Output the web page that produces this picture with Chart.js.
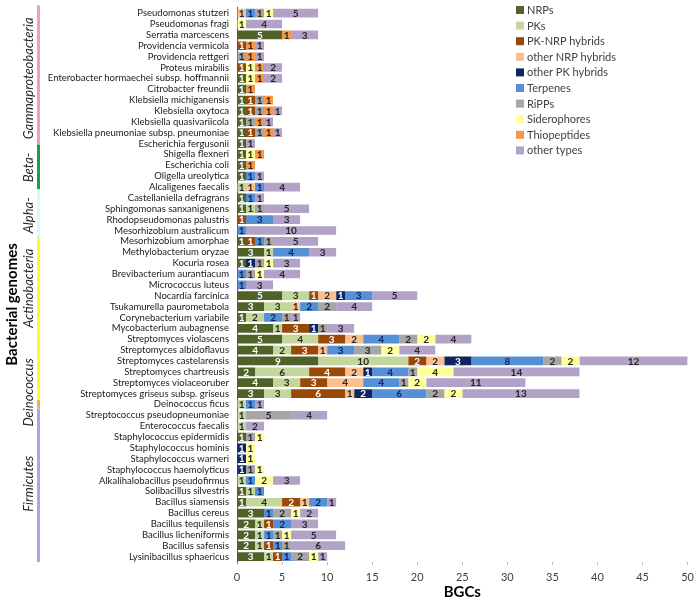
<!DOCTYPE html>
<html>
<head>
<meta charset="utf-8">
<script src="https://cdn.jsdelivr.net/npm/chart.js@4.4.1/dist/chart.umd.min.js"></script>
<style>
  html, body { margin: 0; padding: 0; background: #fff; }
  #wrap { width: 700px; height: 601px; position: relative; }
</style>
</head>
<body>
<div id="wrap"><canvas id="chart" width="700" height="601"></canvas></div>
<script>
// Genomen (van boven naar onder)
const species = [
  'Pseudomonas stutzeri', 'Pseudomonas fragi', 'Serratia marcescens', 'Providencia vermicola', 'Providencia rettgeri',
  'Proteus mirabilis', 'Enterobacter hormaechei subsp. hoffmannii', 'Citrobacter freundii', 'Klebsiella michiganensis', 'Klebsiella oxytoca',
  'Klebsiella quasivariicola', 'Klebsiella pneumoniae subsp. pneumoniae', 'Escherichia fergusonii', 'Shigella flexneri', 'Escherichia coli',
  'Oligella ureolytica', 'Alcaligenes faecalis', 'Castellaniella defragrans', 'Sphingomonas sanxanigenens', 'Rhodopseudomonas palustris',
  'Mesorhizobium australicum', 'Mesorhizobium amorphae', 'Methylobacterium oryzae', 'Kocuria rosea', 'Brevibacterium aurantiacum',
  'Micrococcus luteus', 'Nocardia farcinica', 'Tsukamurella paurometabola', 'Corynebacterium variabile', 'Mycobacterium aubagnense',
  'Streptomyces violascens', 'Streptomyces albidoflavus', 'Streptomyces castelarensis', 'Streptomyces chartreusis', 'Streptomyces violaceoruber',
  'Streptomyces griseus subsp. griseus', 'Deinococcus ficus', 'Streptococcus pseudopneumoniae', 'Enterococcus faecalis', 'Staphylococcus epidermidis',
  'Staphylococcus hominis', 'Staphylococcus warneri', 'Staphylococcus haemolyticus', 'Alkalihalobacillus pseudofirmus', 'Solibacillus silvestris',
  'Bacillus siamensis', 'Bacillus cereus', 'Bacillus tequilensis', 'Bacillus licheniformis', 'Bacillus safensis',
  'Lysinibacillus sphaericus'
];

// BGC-aantallen per type
const nrps = [0,0,5,0,0,0,1,1,1,1, 1,1,1,1,1,1,0,1,1,0, 0,1,3,1,0,0,5,3,1,4, 5,4,9,2,4,3,0,0,0,1, 0,0,0,0,1,1,3,2,2,2, 3];
const pks = [0,0,0,0,0,0,0,0,0,0, 0,0,0,0,0,0,1,0,1,0, 0,0,1,0,0,0,3,3,2,1, 4,2,10,6,3,3,1,1,1,0, 0,0,0,1,1,4,0,1,1,1, 1];
const pkNrpHybrids = [0,0,0,1,0,1,0,0,1,1, 0,1,0,0,0,0,0,0,0,1, 0,1,0,0,0,0,1,0,0,3, 3,3,2,4,3,6,0,0,0,0, 0,0,0,0,0,2,0,1,0,1, 1];
const otherNrpHybrids = [1,0,0,0,0,0,0,0,0,0, 0,0,0,0,0,0,1,0,0,0, 0,0,0,0,0,0,2,1,0,0, 2,1,2,2,4,1,0,0,0,0, 0,0,0,0,0,1,0,0,0,0, 0];
const otherPkHybrids = [0,0,0,0,0,0,0,0,0,0, 0,0,0,0,0,0,0,0,0,0, 0,0,0,1,0,0,1,0,0,1, 0,0,3,1,0,2,0,0,0,0, 1,1,1,0,0,0,0,0,0,0, 0];
const terpenes = [1,0,0,0,0,0,0,0,0,0, 0,0,0,0,0,1,1,1,0,3, 1,1,4,0,1,1,3,2,2,0, 4,3,8,4,4,6,1,0,0,0, 0,0,0,1,1,2,1,2,1,1, 1];
const ripps = [1,0,0,0,1,0,0,0,1,1, 1,1,0,0,0,0,0,0,1,0, 0,1,0,1,1,0,0,2,1,1, 2,3,2,1,1,2,0,5,0,1, 0,0,1,0,0,0,2,0,1,1, 2];
const siderophores = [1,1,0,0,0,1,1,0,0,0, 0,0,0,1,0,0,0,0,0,0, 0,0,0,1,1,0,0,0,0,0, 2,2,2,4,2,2,0,0,0,1, 1,1,1,2,0,0,1,0,1,0, 1];
const thiopeptides = [0,0,1,1,1,1,1,1,1,1, 1,1,0,1,1,0,0,0,0,0, 0,0,0,0,0,0,0,0,0,0, 0,0,0,0,0,0,0,0,0,0, 0,0,0,0,0,0,0,0,0,0, 0];
const otherTypes = [5,4,3,1,1,2,2,0,0,1, 1,1,1,0,0,1,4,1,5,3, 10,5,3,3,4,3,5,4,1,3, 4,4,12,14,11,13,1,4,2,0, 0,0,0,3,0,1,2,3,5,6, 1];

const xTicks = [0, 5, 10, 15, 20, 25, 30, 35, 40, 45, 50];

// Groepen links: begin/einde van de gekleurde streep en plek van het label (in rij-eenheden)
const groupNames = ['Gammaproteobacteria', 'Beta-', 'Alpha-', 'Actinobacteria', 'Deinococcus', 'Firmicutes'];
const groupStart = [-0.7, 12.1, 16.2, 20.6, 35.6, 36.4];
const groupEnd   = [12.1, 16.2, 20.6, 35.6, 36.4, 50.5];
const groupLabelAt = [6.0, 14.2, 18.6, 25.3, 34.9, 43.3];

// Stijl
const FONT = 'Lato, "Open Sans", sans-serif';
const series = [
  { label: 'NRPs',              data: nrps,            color: '#4f6228', text: '#ffffff' },
  { label: 'PKs',               data: pks,             color: '#c3d69b', text: '#262626' },
  { label: 'PK-NRP hybrids',    data: pkNrpHybrids,    color: '#984807', text: '#ffffff' },
  { label: 'other NRP hybrids', data: otherNrpHybrids, color: '#fac090', text: '#262626' },
  { label: 'other PK hybrids',  data: otherPkHybrids,  color: '#0e2562', text: '#ffffff' },
  { label: 'Terpenes',          data: terpenes,        color: '#5590d6', text: '#0e2562' },
  { label: 'RiPPs',             data: ripps,           color: '#a6a6a6', text: '#262626' },
  { label: 'Siderophores',      data: siderophores,    color: '#ffff99', text: '#262626' },
  { label: 'Thiopeptides',      data: thiopeptides,    color: '#f79646', text: '#262626' },
  { label: 'other types',       data: otherTypes,      color: '#b3a2c7', text: '#262626' }
];
const groupColors = ['#f59ac6', '#1a9c52', '#ccffff', '#ffff1a', '#f7b135', '#a6a6ee'];

// Getallen in de segmenten
const segmentLabels = {
  id: 'segmentLabels',
  afterDatasetsDraw(chart) {
    const ctx = chart.ctx;
    ctx.save();
    ctx.font = 'bold 10px ' + FONT;
    ctx.textAlign = 'center';
    ctx.textBaseline = 'middle';
    chart.data.datasets.forEach((ds, di) => {
      const meta = chart.getDatasetMeta(di);
      meta.data.forEach((el, i) => {
        const v = ds.data[i];
        if (!v) return;
        ctx.fillStyle = series[di].text;
        ctx.fillText(String(v), (el.x + el.base) / 2, el.y + 0.5);
      });
    });
    ctx.restore();
  }
};

// Legenda rechtsboven
const sideLegend = {
  id: 'sideLegend',
  afterDraw(chart) {
    const ctx = chart.ctx;
    ctx.save();
    ctx.font = '11px ' + FONT;
    ctx.textBaseline = 'middle';
    series.forEach((s, i) => {
      const y = 10 + i * 15.6;
      ctx.fillStyle = s.color;
      ctx.fillRect(516, y - 4, 8, 8);
      ctx.fillStyle = '#404040';
      ctx.fillText(s.label, 527, y + 0.5);
    });
    ctx.restore();
  }
};

// Taxonomische groepen links
const groupBars = {
  id: 'groupBars',
  afterDraw(chart) {
    const ctx = chart.ctx;
    const y = chart.scales.y;
    const y0 = y.getPixelForValue(0);
    const step = y.getPixelForValue(1) - y0;
    ctx.save();
    groupNames.forEach((name, g) => {
      const top = y0 + groupStart[g] * step;
      const bottom = y0 + groupEnd[g] * step;
      ctx.fillStyle = groupColors[g];
      ctx.fillRect(37, top, 3, bottom - top);
      ctx.save();
      ctx.translate(29, y0 + groupLabelAt[g] * step);
      ctx.rotate(-Math.PI / 2);
      ctx.font = 'italic 13px ' + FONT;
      ctx.fillStyle = '#262626';
      ctx.textAlign = 'center';
      ctx.textBaseline = 'middle';
      ctx.fillText(name, 0, 0);
      ctx.restore();
    });
    ctx.translate(12, y0 + 26.8 * step);
    ctx.rotate(-Math.PI / 2);
    ctx.font = 'bold 15px ' + FONT;
    ctx.fillStyle = '#000';
    ctx.textAlign = 'center';
    ctx.textBaseline = 'middle';
    ctx.fillText('Bacterial genomes', 0, 0);
    ctx.restore();
  }
};

new Chart(document.getElementById('chart'), {
  type: 'bar',
  data: {
    labels: species,
    datasets: series.map(s => ({
      label: s.label,
      data: s.data,
      backgroundColor: s.color,
      borderWidth: 0,
      barPercentage: 0.8,
      categoryPercentage: 1
    }))
  },
  options: {
    indexAxis: 'y',
    responsive: false,
    animation: false,
    layout: { padding: { top: 2, right: 6, bottom: 1, left: 0 } },
    plugins: {
      legend: { display: false },
      tooltip: { enabled: false }
    },
    scales: {
      x: {
        stacked: true,
        min: 0,
        max: 50,
        afterBuildTicks: scale => { scale.ticks = xTicks.map(v => ({ value: v })); },
        afterFit: scale => { scale.height = 38; },
        ticks: { font: { family: FONT, size: 11 }, color: '#404040', padding: 6, maxRotation: 0 },
        grid: { drawOnChartArea: false, tickLength: 3, color: '#bfbfbf' },
        border: { display: false },
        title: { display: true, text: 'BGCs', font: { family: FONT, size: 15, weight: 'bold', lineHeight: 1 }, color: '#000', padding: { top: 0, bottom: 0 } }
      },
      y: {
        stacked: true,
        afterFit: scale => { scale.width = 237; },
        ticks: { font: { family: FONT, size: 9.5 }, color: '#1a1a1a', padding: 2, autoSkip: false },
        grid: { display: true, drawOnChartArea: false, tickLength: 6, color: 'rgba(0,0,0,0)' },
        border: { display: true, color: '#595959', width: 1 }
      }
    }
  },
  plugins: [segmentLabels, sideLegend, groupBars]
});
</script>
</body>
</html>
